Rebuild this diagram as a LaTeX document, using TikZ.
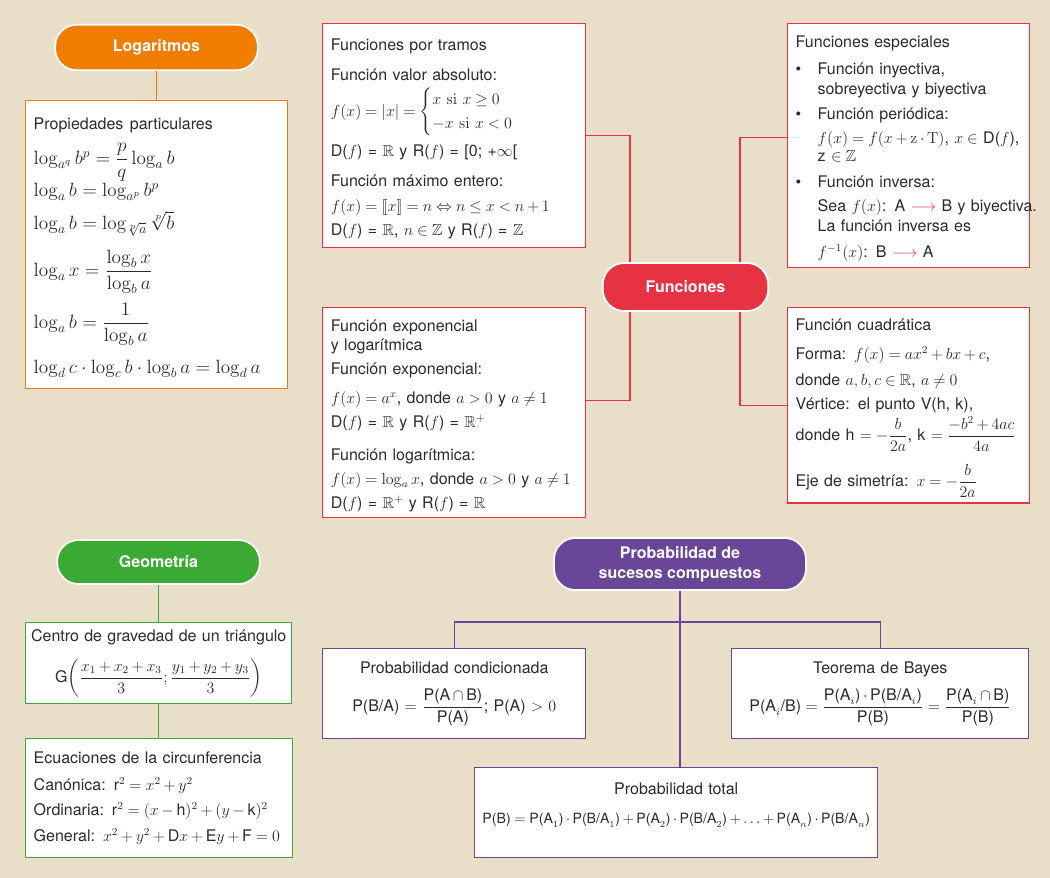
\documentclass[tikz,border=0pt]{standalone}
\usepackage[no-math]{fontspec}
\setmainfont{TeX Gyre Heros}
\usepackage{amsmath,amssymb}
\usepackage{xcolor}
\usepackage{tikz}
\usetikzlibrary{positioning, calc}
\definecolor{papel}{HTML}{E9DEC8}
\definecolor{naranja}{HTML}{EF7D00}
\definecolor{rojo}{HTML}{E63241}
\definecolor{verde}{HTML}{3BAA34}
\definecolor{morado}{HTML}{6A4699}
\definecolor{texto}{HTML}{2B2B2B}
\newcommand{\apretado}{\lineskiplimit-40pt\relax\lineskip0pt\relax}
\newcommand{\compacto}{\thickmuskip4.5mu plus 2mu\relax\medmuskip3mu plus 1mu\relax}
\tikzset{
  pildora/.style={rectangle, rounded corners=16pt, draw=white, line width=1.3pt,
    text=white, font=\fontsize{12}{15}\bfseries\selectfont, align=center},
  caja/.style={rectangle, draw, line width=1.1pt, fill=white, text=texto,
    anchor=north west, align=left, inner xsep=6pt, inner ysep=4pt,
    font=\fontsize{12}{18.75}\selectfont\apretado\compacto},
  arriba/.style={execute at begin node=\rule{0pt}{13pt}},
  linea/.style={line width=1.1pt}
}
\newcommand{\tx}[1]{\text{#1}}
\newcommand{\vineta}{\makebox[16.5pt][l]{\textbullet}}
\newcommand{\sangria}{\hspace*{16.5pt}}
\newcommand{\flechita}{\textcolor{rojo}{$\longrightarrow$}}

\begin{document}
\begin{tikzpicture}[x=0.75pt, y=-0.75pt,
  centrada/.style={caja, align=center}]

  % fondo
  \fill[papel] (0,0) rectangle (1050,878);

  % --- Logaritmos ---
  \node[pildora, fill=naranja, minimum width=152pt, minimum height=34pt]
    (logaritmos) at (156.5,47.5) {Logaritmos};
  \node[caja, arriba, draw=naranja, text width=184.5pt, minimum width=196.5pt, minimum height=216pt,
    font=\fontsize{14.4}{24.75}\selectfont\apretado]
    (propiedades) at (25,100) {{\fontsize{12}{18}\selectfont Propiedades particulares}\\[1.5pt]
    $\log_{a^q} b^p = \dfrac{p}{q}\log_a b$\\[-0.75pt]
    $\log_a b = \log_{a^p} b^p$\\
    $\log_a b = \log_{\sqrt[p]{a}} \sqrt[p]{b}$\\[10.5pt]
    $\log_a x = \dfrac{\log_b x}{\log_b a}$\\[14.25pt]
    $\log_a b = \dfrac{1}{\log_b a}$\\[9pt]
    $\log_d c \cdot \log_c b \cdot \log_b a = \log_d a$};
  \draw[linea, naranja] (logaritmos.south) -- (logaritmos.south |- propiedades.north);

  % --- Funciones ---
  \node[pildora, fill=rojo, minimum width=124pt, minimum height=36pt]
    (funciones) at (685.5,287) {Funciones};
  \node[caja, arriba, draw=rojo, text width=185pt, minimum width=197.25pt, minimum height=168pt]
    (tramos) at (322,23) {Funciones por tramos\\[3.75pt]
    Función valor absoluto:\\[8.25pt]
    $f(x) = |x| = {\lineskiplimit=0pt\def\arraystretch{0.96}\left\{\begin{array}{@{}l@{}}
      x \ \mathrm{si}\ x \geq 0\\ -x \ \mathrm{si}\ x < 0\end{array}\right.}$\\[11.25pt]
    D($f$) = $\mathbb{R}$ y R($f$) = [0; +$\infty$[\\[3.75pt]
    Función máximo entero:\\
    $f(x) = [\![x]\!] = n \Leftrightarrow n \leq x < n + 1$\\[-0.75pt]
    D($f$) = $\mathbb{R}$, $n \in \mathbb{Z}$ y R($f$) = $\mathbb{Z}$};
  \node[caja, arriba, draw=rojo, text width=185pt, minimum width=197.25pt, minimum height=157.5pt]
    (exponencial) at (322,307) {Función exponencial\\[-4.5pt]
    y logarítmica\\[-0.75pt]
    Función exponencial:\\[3pt]
    $f(x) = a^x$, donde $a > 0$ y $a \neq 1$\\[-0.75pt]
    D($f$) = $\mathbb{R}$ y R($f$) = $\mathbb{R}^+$\\[6pt]
    Función logarítmica:\\[-0.75pt]
    $f(x) = \log_a x$, donde $a > 0$ y $a \neq 1$\\[-0.75pt]
    D($f$) = $\mathbb{R}^+$ y R($f$) = $\mathbb{R}$};
  \node[caja, arriba, draw=rojo, text width=169.5pt, minimum width=181.5pt, minimum height=183pt]
    (especiales) at (787,23) {Funciones especiales\\[1.5pt]
    \vineta Función inyectiva,\\[-3.75pt]
    \sangria sobreyectiva y biyectiva\\
    \vineta Función periódica:\\[-0.75pt]
    \sangria $f(x) = f(x + \mathrm{z}\cdot\mathrm{T})$, $x \in$ D($f$),\\[-5.25pt]
    \sangria z $\in \mathbb{Z}$\\[0.75pt]
    \vineta Función inversa:\\[-0.75pt]
    \sangria\mbox{Sea $f(x)$: A \flechita\ B y biyectiva.}\\[-3.75pt]
    \sangria La función inversa es\\[0.75pt]
    \sangria $f^{-1}(x)$: B \flechita\ A};
  \node[caja, arriba, draw=rojo, text width=169.5pt, minimum width=181.5pt, minimum height=144pt]
    (cuadratica) at (787,307) {Función cuadrática\\[3pt]
    Forma: $f(x) = ax^2 + bx + c$,\\[0.75pt]
    donde $a, b, c \in \mathbb{R}$, $a \neq 0$\\[-0.75pt]
    Vértice: el punto V(h, k),\\[4.5pt]
    donde h $= -\dfrac{b}{2a}$, k $= \dfrac{-b^2 + 4ac}{4a}$\\[16pt]
    Eje de simetría: $x = -\dfrac{b}{2a}$};
  \draw[linea, rojo] (tramos.east) -| ([xshift=21pt]funciones.north west);
  \draw[linea, rojo] ([yshift=9pt]exponencial.east) -| ([xshift=21pt]funciones.south west);
  \draw[linea, rojo] ([yshift=6pt]especiales.west) -| ([xshift=-21.75pt]funciones.north east);
  \draw[linea, rojo] (cuadratica.west) -| ([xshift=-21.75pt]funciones.south east);

  % --- Geometria ---
  \node[pildora, fill=verde, minimum width=152pt, minimum height=33pt]
    (geometria) at (158.5,562) {Geometría};
  \node[centrada, draw=verde, text width=194pt, inner xsep=2.75pt, minimum width=199.5pt, minimum height=60.75pt]
    (centro) at (25,622) {Centro de gravedad de un triángulo\\[12pt]
    G$\left(\dfrac{x_1 + x_2 + x_3}{3} ; \dfrac{y_1 + y_2 + y_3}{3}\right)$};
  \node[caja, draw=verde, text width=188pt, minimum width=200pt, minimum height=89.25pt]
    (ecuaciones) at (25,738) {Ecuaciones de la circunferencia\\[1.5pt]
    Canónica: r$^2 = x^2 + y^2$\\
    Ordinaria: r$^2 = (x - \tx{h})^2 + (y - \tx{k})^2$\\[0.75pt]
    General: $x^2 + y^2 + \tx{D}x + \tx{E}y + \tx{F} = 0$};
  \draw[linea, verde] (geometria.south) -- (geometria.south |- centro.north);
  \draw[linea, verde] (centro.south) -- (centro.south |- ecuaciones.north);

  % --- Probabilidad ---
  \node[pildora, fill=morado, minimum width=189pt, minimum height=39pt]
    (probabilidad) at (680,564) {Probabilidad de\\sucesos compuestos};
  \coordinate (bifurca) at (680,622);
  \node[centrada, draw=morado, text width=185pt, minimum width=197.25pt, minimum height=67.5pt]
    (condicionada) at (322,648) {Probabilidad condicionada\\[9.75pt]
    $\tx{P(B/A)} = \dfrac{\tx{P(A} \cap \tx{B)}}{\tx{P(A)}}$; P(A) $> 0$};
  \node[centrada, draw=morado, text width=210pt, minimum width=222.75pt, minimum height=67.5pt]
    (bayes) at (731,648) {Teorema de Bayes\\[9.75pt]
    $\tx{P(A}_i\tx{/B)} = \dfrac{\tx{P(A}_i\tx{)} \cdot \tx{P(B/A}_i\tx{)}}{\tx{P(B)}}
      = \dfrac{\tx{P(A}_i \cap \tx{B)}}{\tx{P(B)}}$};
  \node[centrada, draw=morado, text width=296pt, inner xsep=3pt, minimum width=302.25pt, minimum height=67.5pt]
    (total) at (474,767) {Probabilidad total\\[3pt]
    {\fontsize{10.6}{13}\selectfont\mbox{$\tx{P(B)} = \tx{P(A}_1\tx{)} \cdot \tx{P(B/A}_1\tx{)} + \tx{P(A}_2\tx{)} \cdot \tx{P(B/A}_2\tx{)}
      + \ldots + \tx{P(A}_n\tx{)} \cdot \tx{P(B/A}_n\tx{)}$}}\\[-4.75pt]\mbox{}};
  \draw[linea, morado] (probabilidad.south) -- (bifurca);
  \draw[linea, morado] (condicionada.north) |- (bifurca) -| (bayes.north);
  \draw[linea, morado] (bifurca) -- (bifurca |- total.north);

\end{tikzpicture}
\end{document}
